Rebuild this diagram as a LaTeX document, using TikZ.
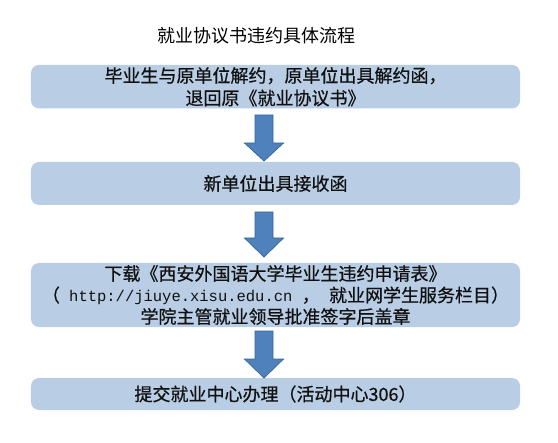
\documentclass[tikz,border=0pt]{standalone}
\usepackage{fontspec}
\setmainfont{Noto Sans CJK SC}[BoldFont=Noto Sans CJK SC, BoldFeatures={FakeBold=0.6}]
\newfontfamily\urlfont{Liberation Mono}
\definecolor{boxblue}{HTML}{B9CDE5}
\definecolor{arrowblue}{HTML}{4F81BD}
\definecolor{arrowedge}{HTML}{3A679C}
\definecolor{txt}{HTML}{111111}
\begin{document}
\begin{tikzpicture}[x=1bp,y=-1bp,
  stepbox/.style={fill=boxblue, rounded corners=8bp, minimum width=489bp,
    inner sep=0pt, align=center, text=txt,
    font=\fontsize{18bp}{22.5bp}\selectfont\bfseries},
  blockarrow/.style={fill=arrowblue, draw=arrowedge, line width=0.8bp, line join=miter}]
\useasboundingbox (0,0) rectangle (558,443);

\node[font=\fontsize{18bp}{18bp}\selectfont, text=black] (title) at (256.5,36) {就业协议书违约具体流程};

\node[stepbox, minimum height=43.5bp] (b1) at (275.5,86.75)
  {毕业生与原单位解约，原单位出具解约函，\\退回原《就业协议书》};
\node[stepbox, minimum height=43bp] (b2) at (275.5,183.5) {新单位出具接收函};
\node[stepbox, minimum height=64bp, font=\fontsize{18bp}{21.5bp}\selectfont\bfseries] (b3) at (275.5,295)
  {下载《西安外国语大学毕业生违约申请表》\\（{\urlfont\mdseries\fontsize{15.5bp}{21.5bp}\selectfont{} http://jiuye.xisu.edu.cn }，{\urlfont\mdseries\fontsize{15.5bp}{21.5bp}\selectfont{} }就业网学生服务栏目）\\学院主管就业领导批准签字后盖章};
\node[stepbox, minimum height=32bp] (b4) at (275.5,394) {提交就业中心办理（活动中心306）};

% block arrows between the boxes
\draw[blockarrow] (255,115) -- (273,115) -- (273,143) -- (283.5,143) -- (264,161) -- (244.5,143) -- (255,143) -- cycle;
\draw[blockarrow] (255,212) -- (273,212) -- (273,238) -- (283.5,238) -- (264,257) -- (244.5,238) -- (255,238) -- cycle;
\draw[blockarrow] (255,331) -- (273,331) -- (273,359) -- (283.5,359) -- (264,378) -- (244.5,359) -- (255,359) -- cycle;
\end{tikzpicture}
\end{document}
